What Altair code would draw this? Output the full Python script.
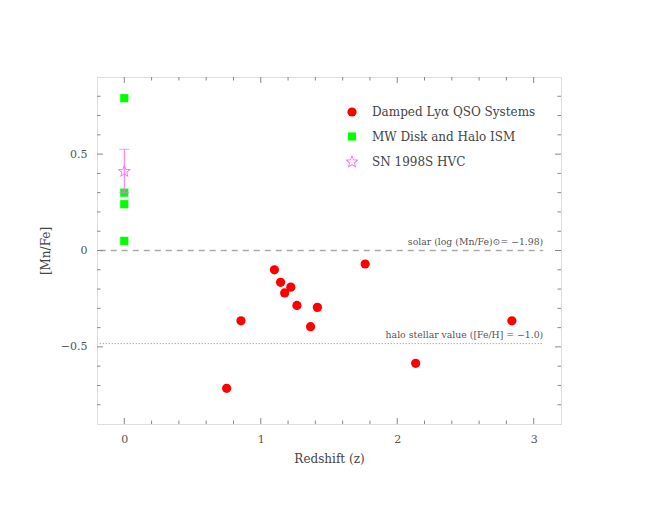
import math
import altair as alt
import pandas as pd

# ---- data ----
dla_z = [0.75, 0.855, 1.10, 1.145, 1.175, 1.22, 1.265, 1.365, 1.415, 1.765, 2.135, 2.84]
dla_mnfe = [-0.715, -0.365, -0.10, -0.165, -0.22, -0.19, -0.285, -0.395, -0.295, -0.07, -0.585, -0.365]
ism_z = [0, 0, 0, 0]
ism_mnfe = [0.79, 0.30, 0.24, 0.05]
sn_z = [0]
sn_mnfe = [0.41]
sn_lo = [0.30]
sn_hi = [0.525]

groups = ["Damped Lyα QSO Systems", "MW Disk and Halo ISM", "SN 1998S HVC"]

x_major = [0, 1, 2, 3]
x_minor = [0.2, 0.4, 0.6, 0.8, 1.2, 1.4, 1.6, 1.8, 2.2, 2.4, 2.6, 2.8]
y_major = [-0.5, 0, 0.5]
y_minor = [-0.8, -0.7, -0.6, -0.4, -0.3, -0.2, -0.1, 0.1, 0.2, 0.3, 0.4, 0.6, 0.7, 0.8]

ref_y = [0.0, -0.483]
ref_x0 = [-0.18, -0.18]
ref_x1 = [3.07, 3.07]
ref_text = ["solar (log (Mn/Fe)⊙= −1.98)", "halo stellar value ([Fe/H] = −1.0)"]

W, H = 464, 347
XD = [-0.2, 3.2]
YD = [-0.9, 0.9]
FONT = "DejaVu Serif"
GREY = "#888888"
TXT = "#444444"


# hollow star symbol: outer star minus a scaled inner star (opposite winding)
def star_pts(scale, inner=0.45):
    p = []
    for k in range(10):
        ang = math.radians(-90 + 36 * k)
        r = scale if k % 2 == 0 else scale * inner
        p.append((r * math.cos(ang), r * math.sin(ang)))
    return p


def to_path(p):
    return "M" + "L".join(f"{x:.3f},{y:.3f}" for x, y in p) + "Z"


SR = 2.0
STAR = to_path(star_pts(SR)) + to_path(list(reversed(star_pts(SR * 0.68))))

pts = pd.DataFrame({
    "z": dla_z + ism_z + sn_z,
    "v": dla_mnfe + ism_mnfe + sn_mnfe,
    "g": [groups[0]] * len(dla_z) + [groups[1]] * len(ism_z) + [groups[2]] * len(sn_z),
})
err = pd.DataFrame({"z": sn_z, "lo": sn_lo, "hi": sn_hi})
refs = pd.DataFrame({"y": ref_y, "x0": ref_x0, "x1": ref_x1, "t": ref_text,
                     "kind": ["solar", "halo"]})

xs = alt.Scale(domain=XD, nice=False, zero=False)
ys = alt.Scale(domain=YD, nice=False, zero=False)

x_axis = alt.Axis(values=x_major, ticks=False, domain=False, grid=False, labelPadding=9,
                  labelFont=FONT, labelFontSize=11, labelColor="#555555",
                  title="Redshift (z)", titleFont=FONT, titleFontSize=12,
                  titleFontWeight="normal", titleColor=TXT, titlePadding=9, format="~g")
y_axis = alt.Axis(values=y_major, ticks=False, domain=False, grid=False, labelPadding=10,
                  labelFont=FONT, labelFontSize=11, labelColor="#555555",
                  title="[Mn/Fe]", titleFont=FONT, titleFontSize=12,
                  titleFontWeight="normal", titleColor=TXT, titlePadding=8, format="~g")

points = alt.Chart(pts).mark_point(filled=True, opacity=1).encode(
    x=alt.X("z:Q", scale=xs, axis=x_axis),
    y=alt.Y("v:Q", scale=ys, axis=y_axis),
    color=alt.Color("g:N", scale=alt.Scale(domain=groups, range=["#ff0000", "#00ff00", "#ff66ff"]),
                    legend=alt.Legend(title=None, orient="none", legendX=249, legendY=29,
                                      labelFont=FONT, labelFontSize=12, labelColor=TXT,
                                      labelLimit=0, rowPadding=12.5, labelOffset=14,
                                      padding=0)),
    shape=alt.Shape("g:N", scale=alt.Scale(domain=groups, range=["circle", "square", STAR])),
    size=alt.Size("g:N", scale=alt.Scale(domain=groups, range=[85, 49, 225])),
)

ebar = alt.Chart(err).mark_rule(color="#ff66ff", strokeWidth=1).encode(
    x=alt.X("z:Q", scale=xs), y=alt.Y("lo:Q", scale=ys), y2="hi:Q")
ecap_lo = alt.Chart(err).mark_tick(color="#ff66ff", thickness=1, size=10, orient="horizontal").encode(
    x=alt.X("z:Q", scale=xs), y=alt.Y("lo:Q", scale=ys))
ecap_hi = alt.Chart(err).mark_tick(color="#ff66ff", thickness=1, size=10, orient="horizontal").encode(
    x=alt.X("z:Q", scale=xs), y=alt.Y("hi:Q", scale=ys))

solar = alt.Chart(refs).transform_filter(alt.datum.kind == "solar").mark_rule(
    color="#aaaaaa", strokeWidth=1.5, strokeDash=[6, 5]).encode(
    x=alt.X("x0:Q", scale=xs), x2="x1:Q", y=alt.Y("y:Q", scale=ys))
halo = alt.Chart(refs).transform_filter(alt.datum.kind == "halo").mark_rule(
    color="#888888", strokeWidth=1, strokeDash=[1, 2]).encode(
    x=alt.X("x0:Q", scale=xs), x2="x1:Q", y=alt.Y("y:Q", scale=ys))
labels = alt.Chart(refs).mark_text(align="right", baseline="bottom", dy=-4, dx=0,
                                   font=FONT, fontSize=9.3, color="#555555").encode(
    x=alt.X("x1:Q", scale=xs), y=alt.Y("y:Q", scale=ys), text="t:N")

layers = [points, solar, halo, labels, ebar, ecap_lo, ecap_hi]
for vals, ln in [(x_major, 6), (x_minor, 3.5)]:
    d = pd.DataFrame({"v": vals})
    layers.append(alt.Chart(d).mark_rule(color=GREY, strokeWidth=1).encode(
        x=alt.X("v:Q", scale=xs), y=alt.value(H), y2=alt.value(H - ln)))
    layers.append(alt.Chart(d).mark_rule(color=GREY, strokeWidth=1).encode(
        x=alt.X("v:Q", scale=xs), y=alt.value(0), y2=alt.value(ln)))
for vals, ln in [(y_major, 6), (y_minor, 3.5)]:
    d = pd.DataFrame({"v": vals})
    layers.append(alt.Chart(d).mark_rule(color=GREY, strokeWidth=1).encode(
        y=alt.Y("v:Q", scale=ys), x=alt.value(0), x2=alt.value(ln)))
    layers.append(alt.Chart(d).mark_rule(color=GREY, strokeWidth=1).encode(
        y=alt.Y("v:Q", scale=ys), x=alt.value(W), x2=alt.value(W - ln)))

chart = alt.layer(*layers).properties(
    width=W, height=H,
    autosize=alt.AutoSizeParams(type="none"),
    padding={"left": 89, "top": 69, "right": 85, "bottom": 73},
).configure_view(stroke=GREY, strokeWidth=1).configure(background="white")

chart.save("out.html", embed_options={"renderer": "svg", "actions": False})
